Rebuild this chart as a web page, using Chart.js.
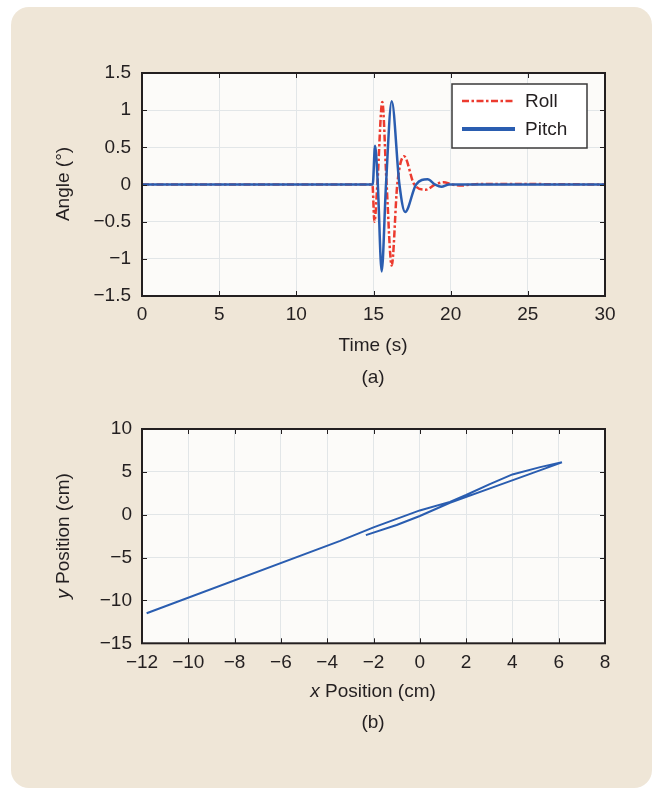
<!DOCTYPE html>
<html>
<head>
<meta charset="utf-8">
<script src="https://cdn.jsdelivr.net/npm/chart.js@4/dist/chart.umd.min.js"></script>
<style>
  html, body { margin: 0; padding: 0; background: #ffffff; }
  body { width: 654px; height: 788px; position: relative; overflow: hidden;
         font-family: "Liberation Sans", Arial, sans-serif; color: #231f20; }
  #panel { position: absolute; left: 11px; top: 7px; width: 641px; height: 781px;
           background: #efe6d7; border-radius: 18px; }
  canvas { position: absolute; left: 0; }
  .lbl { position: absolute; font-size: 19px; white-space: nowrap;
         transform: translate(-50%, -50%); }
  .rot { transform: translate(-50%, -50%) rotate(-90deg); }
</style>
</head>
<body>
<div id="panel"></div>
<canvas id="angles" width="654" height="400" style="top:0"></canvas>
<canvas id="track" width="654" height="388" style="top:400px"></canvas>

<div class="lbl rot" style="left:63px; top:184px">Angle (°)</div>
<div class="lbl" style="left:373px; top:345px">Time (s)</div>
<div class="lbl" style="left:373px; top:377px">(a)</div>

<div class="lbl rot" style="left:63px; top:536px"><i>y</i> Position (cm)</div>
<div class="lbl" style="left:373px; top:691px"><i>x</i> Position (cm)</div>
<div class="lbl" style="left:373px; top:722px">(b)</div>

<script>
// ---- (a) roll / pitch angle over time ----
const rollTime  = [0, 14.93, 15.06, 15.25, 15.57, 15.85, 16.18, 16.54, 16.98, 17.64, 18.38, 18.99, 19.53, 20.1, 20.7, 21.3, 21.9, 30];
const rollAngle = [0, 0, -0.5, 0, 1.11, 0, -1.09, 0, 0.38, 0, -0.07, 0, 0.03, 0, -0.015, 0, 0.008, 0];

const pitchTime  = [0, 14.95, 15.1, 15.28, 15.53, 15.81, 16.18, 16.68, 17.05, 17.76, 18.5, 18.99, 19.4, 19.9, 30];
const pitchAngle = [0, 0, 0.52, 0, -1.17, 0, 1.12, 0, -0.37, 0, 0.07, 0, -0.03, 0, 0];

const timeTicks  = [0, 5, 10, 15, 20, 25, 30];
const angleTicks = [-1.5, -1, -0.5, 0, 0.5, 1, 1.5];

// ---- (b) planar position ----
const posX = [-2.33, -1.0, 0.0, 1.3, 3.0, 4.5, 6.14, 5.2, 4.0, 3.0, 2.0, 1.3, 0.0, -2.0, -3.44, -11.8];
const posY = [-2.38, -1.2, -0.15, 1.4, 3.05, 4.5, 6.11, 5.55, 4.7, 3.55, 2.3, 1.5, 0.5, -1.48, -3.05, -11.5];

const posXTicks = [-12, -10, -8, -6, -4, -2, 0, 2, 4, 6, 8];
const posYTicks = [-15, -10, -5, 0, 5, 10];

const INK = '#231f20';
const BLUE = '#2a5db0';
const RED = '#ec3b2f';
const FONT = { family: '"Liberation Sans", Arial, sans-serif', size: 19 };

const toPoints = (xs, ys) => xs.map((x, i) => ({ x, y: ys[i] }));
const fmt = v => String(v).replace('-', '\u2212');

// plot-area fill, box frame and inward ticks on all four sides
const framePlugin = {
  id: 'frame',
  beforeDraw(chart) {
    const { ctx, chartArea: a } = chart;
    ctx.save();
    ctx.fillStyle = '#fcfbf9';
    ctx.fillRect(a.left, a.top, a.right - a.left, a.bottom - a.top);
    ctx.restore();
  },
  afterDatasetsDraw(chart) {
    const { ctx, chartArea: a, scales } = chart;
    const len = 5;
    ctx.save();
    ctx.strokeStyle = INK;
    ctx.lineWidth = 1;
    ctx.beginPath();
    scales.x.ticks.forEach((t, i) => {
      const px = Math.round(scales.x.getPixelForTick(i)) + 0.5;
      ctx.moveTo(px, a.bottom); ctx.lineTo(px, a.bottom - len);
      ctx.moveTo(px, a.top); ctx.lineTo(px, a.top + len);
    });
    scales.y.ticks.forEach((t, i) => {
      const py = Math.round(scales.y.getPixelForTick(i)) + 0.5;
      ctx.moveTo(a.left, py); ctx.lineTo(a.left + len, py);
      ctx.moveTo(a.right, py); ctx.lineTo(a.right - len, py);
    });
    ctx.stroke();
    ctx.lineWidth = 2;
    ctx.strokeRect(a.left, a.top, a.right - a.left, a.bottom - a.top);
    ctx.restore();
  }
};

// boxed legend with line samples, top-right inside the axes
const legendPlugin = {
  id: 'boxLegend',
  afterDraw(chart) {
    const { ctx, chartArea: a } = chart;
    const w = 135, h = 64;
    const x = a.right - 18 - w, y = a.top + 11;
    ctx.save();
    ctx.fillStyle = '#ffffff';
    ctx.fillRect(x, y, w, h);
    ctx.strokeStyle = '#3a3a3a';
    ctx.lineWidth = 1.5;
    ctx.strokeRect(x, y, w, h);
    ctx.font = `${FONT.size}px ${FONT.family}`;
    ctx.textBaseline = 'middle';
    ctx.fillStyle = INK;
    chart.data.datasets.forEach((ds, i) => {
      const cy = y + 17 + i * 28;
      ctx.strokeStyle = ds.borderColor;
      ctx.lineWidth = ds.legendLineWidth;
      ctx.setLineDash(ds.borderDash || []);
      ctx.beginPath();
      ctx.moveTo(x + 10, cy); ctx.lineTo(x + 63, cy);
      ctx.stroke();
      ctx.setLineDash([]);
      ctx.fillText(ds.label, x + 73, cy + 1);
    });
    ctx.restore();
  }
};

function axis(ticks, extra) {
  return Object.assign({
    type: 'linear',
    min: ticks[0],
    max: ticks[ticks.length - 1],
    afterBuildTicks: s => { s.ticks = ticks.map(v => ({ value: v })); },
    grid: { color: '#e2e6e8', lineWidth: 1, drawTicks: false },
    border: { display: false },
    ticks: { color: INK, font: FONT, callback: v => fmt(v) }
  }, extra);
}

Chart.defaults.font.family = FONT.family;

new Chart(document.getElementById('angles'), {
  type: 'line',
  data: {
    datasets: [
      {
        label: 'Roll',
        data: toPoints(rollTime, rollAngle),
        borderColor: RED,
        borderWidth: 2.5,
        borderDash: [7, 2.5, 2.5, 2.5],
        legendLineWidth: 2.5,
        cubicInterpolationMode: 'monotone',
        pointRadius: 0,
        order: 1
      },
      {
        label: 'Pitch',
        data: toPoints(pitchTime, pitchAngle),
        borderColor: BLUE,
        borderWidth: 2.5,
        legendLineWidth: 4,
        cubicInterpolationMode: 'monotone',
        pointRadius: 0,
        order: 0
      }
    ]
  },
  options: {
    responsive: false,
    animation: false,
    devicePixelRatio: 1,
    layout: { padding: { top: 73, right: 49, bottom: 64, left: 0 } },
    plugins: { legend: { display: false }, tooltip: { enabled: false } },
    scales: {
      x: axis(timeTicks, {
        afterFit: s => { s.height = 40; },
        ticks: { color: INK, font: FONT, padding: 7, maxRotation: 0, callback: v => fmt(v) }
      }),
      y: axis(angleTicks, {
        afterFit: s => { s.width = 142; },
        ticks: { color: INK, font: FONT, padding: 11, callback: v => fmt(v) }
      })
    }
  },
  plugins: [framePlugin, legendPlugin]
});

new Chart(document.getElementById('track'), {
  type: 'line',
  data: {
    datasets: [
      {
        label: 'Position',
        data: toPoints(posX, posY),
        borderColor: BLUE,
        borderWidth: 2,
        tension: 0,
        pointRadius: 0
      }
    ]
  },
  options: {
    responsive: false,
    animation: false,
    devicePixelRatio: 1,
    layout: { padding: { top: 29, right: 49, bottom: 104.7, left: 0 } },
    plugins: { legend: { display: false }, tooltip: { enabled: false } },
    scales: {
      x: axis(posXTicks, {
        afterFit: s => { s.height = 40; },
        ticks: { color: INK, font: FONT, padding: 8, maxRotation: 0, autoSkip: false, callback: v => fmt(v) }
      }),
      y: axis(posYTicks, {
        afterFit: s => { s.width = 142; },
        ticks: { color: INK, font: FONT, padding: 10, callback: v => fmt(v) }
      })
    }
  },
  plugins: [framePlugin]
});
</script>
</body>
</html>
